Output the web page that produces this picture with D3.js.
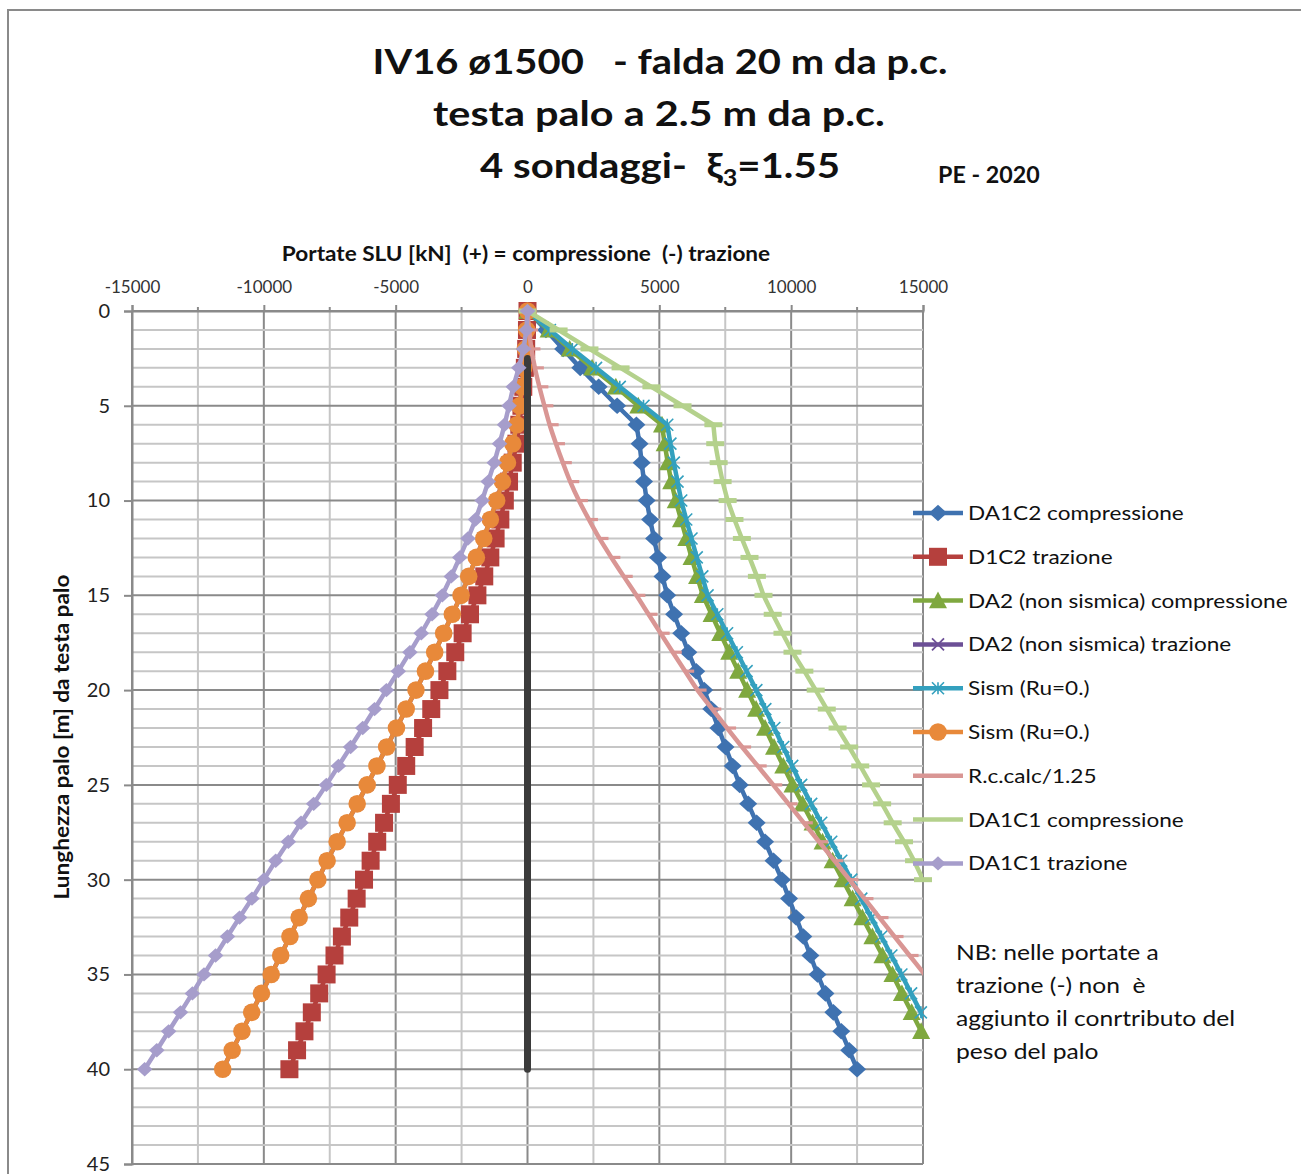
<!DOCTYPE html>
<html>
<head>
<meta charset="utf-8">
<script src="https://cdn.jsdelivr.net/npm/d3@7"></script>
<style>
  body { margin: 0; background: #fff; }
  svg { display: block; font-family: Lato, "Open Sans", sans-serif; }
  text { white-space: pre; }
</style>
</head>
<body>
<svg id="chart" width="1301" height="1174"></svg>
<script>
// Depth below pile head [m]
const depth = [0,1,2,3,4,5,6,7,8,9,10,11,12,13,14,15,16,17,18,19,20,
               21,22,23,24,25,26,27,28,29,30,31,32,33,34,35,36,37,38,39,40];

// ULS capacities [kN]: (+) compression, (-) tension
const da1c2Comp = [0,700,1350,2000,2700,3400,4130,4250,4330,4420,4520,4650,4800,4950,5120,5300,5560,5830,6100,6400,6700,
                   6970,7240,7510,7780,8050,8370,8690,9010,9330,9650,9920,10190,10460,10730,11000,11300,11600,11900,12200,12500];
const d1c2Traz  = [0,-20,-50,-100,-160,-230,-310,-420,-560,-700,-860,-1030,-1210,-1410,-1640,-1900,-2180,-2460,-2740,-3040,-3340,
                   -3650,-3960,-4280,-4600,-4920,-5180,-5440,-5700,-5950,-6200,-6480,-6760,-7040,-7320,-7620,-7900,-8180,-8460,-8740,-9030];
const da2Comp   = [0,800,1600,2450,3350,4200,5100,5200,5320,5450,5620,5820,6020,6220,6430,6650,6980,7310,7650,7990,8330,
                   8670,9010,9350,9700,10050,10430,10810,11190,11570,11950,12330,12700,13080,13460,13840,14200,14570,14930,15300,15660];
const da2Traz   = [0,-30,-80,-140,-210,-300,-400,-560,-760,-950,-1170,-1410,-1660,-1940,-2230,-2520,-2850,-3180,-3520,-3870,-4230,
                   -4600,-4970,-5340,-5710,-6080,-6460,-6840,-7220,-7600,-7950,-8310,-8660,-9010,-9360,-9720,-10090,-10460,-10830,-11200,-11560];
const sismComp  = [0,850,1700,2600,3500,4400,5300,5420,5550,5690,5830,6020,6220,6420,6630,6830,7200,7570,7940,8310,8680,
                   9020,9360,9700,10040,10380,10760,11140,11520,11900,12280,12660,13040,13420,13800,14180,14550,14920,15290,15660,16030];
const sismTraz  = [0,-30,-80,-140,-210,-300,-400,-560,-760,-950,-1170,-1410,-1660,-1940,-2230,-2520,-2850,-3180,-3520,-3870,-4230,
                   -4600,-4970,-5340,-5710,-6080,-6460,-6840,-7220,-7600,-7950,-8310,-8660,-9010,-9360,-9720,-10090,-10460,-10830,-11200,-11560];
const rcCalc    = [0,60,150,280,450,640,840,1080,1340,1620,1950,2330,2730,3180,3650,4130,4590,5050,5510,5980,6450,
                   7010,7570,8140,8730,9320,9900,10480,11060,11640,12210,12780,13350,13920,14490,15060,15630,16200,16770,17340,17910];
const da1c1Comp = [0,1180,2350,3530,4700,5880,7050,7120,7250,7400,7590,7850,8130,8420,8700,8950,9300,9670,10050,10500,10930,
                   11350,11760,12200,12620,13030,13450,13850,14280,14660,15000];
const da1c1Traz = [0,-40,-150,-330,-540,-700,-870,-1060,-1260,-1490,-1720,-1970,-2260,-2570,-2890,-3230,-3620,-4030,-4460,-4900,-5350,
                   -5800,-6250,-6710,-7170,-7630,-8110,-8590,-9070,-9550,-10000,-10450,-10920,-11380,-11830,-12270,-12710,-13160,-13610,-14060,-14520];

// Pile axis reference line
const pileDepth = [2.5, 40];
const pileLoad  = [0, 0];

// Axis ticks
const xTicks = [-15000,-10000,-5000,0,5000,10000,15000];
const yTicks = [0,5,10,15,20,25,30,35,40,45];

const seriesNames = ["DA1C2 compressione","D1C2 trazione","DA2 (non sismica) compressione","DA2 (non sismica) trazione",
                     "Sism (Ru=0.)","Sism (Ru=0.)","R.c.calc/1.25","DA1C1 compressione","DA1C1 trazione"];
const seriesValues = [da1c2Comp, d1c2Traz, da2Comp, da2Traz, sismComp, sismTraz, rcCalc, da1c1Comp, da1c1Traz];

// Drawing styles for each series, in legend order
const styles = [
  {color:"#3F72B0", marker:"diamond", size:9},
  {color:"#B5403D", marker:"square", size:9},
  {color:"#7FA83F", marker:"triangle", size:9},
  {color:"#6C4F96", marker:"x", size:6},
  {color:"#33A0BE", marker:"star", size:6},
  {color:"#E8893A", marker:"circle", size:8.8},
  {color:"#D99694", marker:"tick", size:9, smooth:true, legendMarker:false},
  {color:"#B4D18C", marker:"dash", size:9, legendMarker:false},
  {color:"#A69DCB", marker:"diamond", size:7.8}
];

const svg = d3.select("#chart");

// stretch a text element horizontally to a given width, keeping its anchor point
function fitWidth(sel, ax, width) {
  const w = sel.node().getBBox().width;
  const sx = width / w;
  sel.attr("transform", `translate(${ax},0) scale(${sx},1) translate(${-ax},0)`);
}

// outer chart frame
svg.append("rect").attr("x", 8).attr("y", 10).attr("width", 1400).attr("height", 1400)
  .attr("fill", "#fff").attr("stroke", "#8a8a8a").attr("stroke-width", 2);

const x = d3.scaleLinear().domain([-15000, 15000]).range([132, 923]);
const y = d3.scaleLinear().domain([0, 45]).range([311, 1164]);

// gridlines
const grid = svg.append("g");
const minorX = d3.range(-15000, 15001, 2500);
const minorY = d3.range(0, 46, 1);
grid.selectAll(".vx").data(minorX).join("line")
  .attr("x1", d => x(d)).attr("x2", d => x(d)).attr("y1", y(0)).attr("y2", y(45))
  .attr("stroke", d => d % 5000 === 0 ? "#8a8a8a" : "#c6c6c6").attr("stroke-width", 2);
grid.selectAll(".hy").data(minorY).join("line")
  .attr("x1", x(-15000)).attr("x2", x(15000)).attr("y1", d => y(d)).attr("y2", d => y(d))
  .attr("stroke", d => d % 5 === 0 ? "#8a8a8a" : "#c6c6c6").attr("stroke-width", 2);

const fmt = d => String(d);

// top axis (values)
const xAxis = d3.axisTop(x).tickValues(xTicks).tickSize(6).tickPadding(12).tickFormat(fmt);
const gx = svg.append("g").attr("transform", `translate(0,${y(0)})`).call(xAxis);
gx.select(".domain").attr("stroke", "#8a8a8a").attr("stroke-width", 2);
gx.selectAll(".tick line").attr("stroke", "#8a8a8a").attr("stroke-width", 2);
gx.selectAll(".tick text").attr("font-family", "Lato, sans-serif").attr("font-size", 17).attr("fill", "#333");
// minor tick marks on top axis
svg.append("g").selectAll("line").data(minorX.filter(d => d % 5000 !== 0)).join("line")
  .attr("x1", d => x(d)).attr("x2", d => x(d)).attr("y1", y(0) - 4).attr("y2", y(0))
  .attr("stroke", "#8a8a8a").attr("stroke-width", 2);

// left axis (depth)
const yAxis = d3.axisLeft(y).tickValues(yTicks).tickSize(8).tickPadding(14).tickFormat(fmt);
const gy = svg.append("g").attr("transform", `translate(${x(-15000)},0)`).call(yAxis);
gy.select(".domain").attr("stroke", "#8a8a8a").attr("stroke-width", 2);
gy.selectAll(".tick line").attr("stroke", "#8a8a8a").attr("stroke-width", 2);
gy.selectAll(".tick text").attr("font-family", "Lato, sans-serif").attr("font-size", 20).attr("fill", "#222");

// titles
const title = svg.append("g").attr("font-weight", "bold").attr("fill", "#111").attr("text-anchor", "middle");
const t1 = title.append("text").attr("x", 660).attr("y", 74).attr("font-size", 35).text("IV16 ø1500   - falda 20 m da p.c.");
const t2 = title.append("text").attr("x", 659).attr("y", 126).attr("font-size", 35).text("testa palo a 2.5 m da p.c.");
const t3 = title.append("text").attr("x", 660).attr("y", 178).attr("font-size", 35);
t3.append("tspan").text("4 sondaggi-  ξ");
t3.append("tspan").attr("font-size", 22).attr("dy", 8).text("3");
t3.append("tspan").attr("dy", -8).text("=1.55");
fitWidth(t1, 660, 575);
fitWidth(t2, 659, 452);
fitWidth(t3, 660, 360);
const pe = svg.append("text").attr("x", 938).attr("y", 183).attr("font-size", 22).attr("font-weight", "bold")
  .attr("fill", "#111").text("PE - 2020");
fitWidth(pe, 938, 102);

const xt = svg.append("text").attr("x", 526).attr("y", 261).attr("text-anchor", "middle")
  .attr("font-size", 20).attr("font-weight", "bold").attr("fill", "#111")
  .text("Portate SLU [kN]  (+) = compressione  (-) trazione");
fitWidth(xt, 526, 489);
const ytg = svg.append("g").attr("transform", "translate(69,737) rotate(-90)");
const yt = ytg.append("text").attr("x", 0).attr("y", 0).attr("text-anchor", "middle")
  .attr("font-size", 20).attr("font-weight", "bold").attr("fill", "#111")
  .text("Lunghezza palo [m] da testa palo");
fitWidth(yt, 0, 325);

// marker drawing
function drawMarker(sel, type, s, color) {
  switch (type) {
    case "diamond":
      sel.append("path").attr("d", `M0,${-s*0.92}L${s},0L0,${s*0.92}L${-s},0Z`).attr("fill", color); break;
    case "square":
      sel.append("rect").attr("x", -s).attr("y", -s).attr("width", 2*s).attr("height", 2*s).attr("fill", color); break;
    case "triangle":
      sel.append("path").attr("d", `M0,${-s}L${s},${s*0.85}L${-s},${s*0.85}Z`).attr("fill", color); break;
    case "circle":
      sel.append("circle").attr("r", s).attr("fill", color); break;
    case "x":
      sel.append("path").attr("d", `M${-s},${-s}L${s},${s}M${-s},${s}L${s},${-s}`)
        .attr("stroke", color).attr("stroke-width", 1.8).attr("fill", "none"); break;
    case "star":
      sel.append("path").attr("d", `M${-s},${-s}L${s},${s}M${-s},${s}L${s},${-s}M0,${-s}L0,${s}`)
        .attr("stroke", color).attr("stroke-width", 1.6).attr("fill", "none"); break;
    case "dash":
      sel.append("rect").attr("x", -s).attr("y", -2.5).attr("width", 2*s).attr("height", 5).attr("fill", color); break;
    case "tick":
      sel.append("rect").attr("x", 0).attr("y", -1.6).attr("width", s).attr("height", 3.2).attr("fill", color); break;
  }
}

// clipping for lines
svg.append("clipPath").attr("id", "plotClip").append("rect")
  .attr("x", x(-15000)).attr("y", y(0) - 3).attr("width", x(15000) - x(-15000)).attr("height", y(45) - y(0) + 6);

const plot = svg.append("g");

function drawSeries(vals, st) {
  const pts = vals.map((v, i) => [v, depth[i]]);
  const line = d3.line().x(d => x(d[0])).y(d => y(d[1]))
    .curve(st.smooth ? d3.curveMonotoneY : d3.curveLinear);
  const g = plot.append("g");
  g.append("path").datum(pts).attr("d", line).attr("fill", "none")
    .attr("stroke", st.color).attr("stroke-width", 4.5).attr("stroke-linejoin", "round")
    .attr("clip-path", "url(#plotClip)");
  const inside = pts.filter(d => d[0] >= -15000 && d[0] <= 15000);
  inside.forEach(d => {
    const m = g.append("g").attr("transform", `translate(${x(d[0])},${y(d[1])})`);
    drawMarker(m, st.marker, st.size, st.color);
  });
}

seriesValues.forEach((vals, i) => {
  drawSeries(vals, styles[i]);
  if (i === 5) {
    // pile axis
    const pile = pileDepth.map((d, k) => [pileLoad[k], d]);
    plot.append("path").datum(pile)
      .attr("d", d3.line().x(d => x(d[0])).y(d => y(d[1])))
      .attr("stroke", "#3b3b3b").attr("stroke-width", 7).attr("stroke-linecap", "round").attr("fill", "none");
  }
});

// legend
const legend = svg.append("g").attr("transform", "translate(913,513)");
seriesNames.forEach((name, i) => {
  const st = styles[i];
  const g = legend.append("g").attr("transform", `translate(0,${i * 43.8})`);
  g.append("line").attr("x1", 0).attr("x2", 50).attr("stroke", st.color).attr("stroke-width", 4.5);
  if (st.legendMarker !== false) {
    const m = g.append("g").attr("transform", "translate(25,0)");
    drawMarker(m, st.marker, st.size, st.color);
  }
  const t = g.append("text").attr("x", 55).attr("y", 7).attr("font-size", 20).attr("fill", "#111").text(name);
  t.attr("transform", "translate(55,0) scale(1.13,1) translate(-55,0)");
});

// note
const note = ["NB: nelle portate a", "trazione (-) non  è", "aggiunto il conrtributo del", "peso del palo"];
const nt = svg.append("text").attr("x", 956).attr("y", 960).attr("font-size", 22).attr("fill", "#111");
note.forEach((l, i) => nt.append("tspan").attr("x", 956).attr("dy", i === 0 ? 0 : 33).text(l));
nt.attr("transform", "translate(956,0) scale(1.12,1) translate(-956,0)");
</script>
</body>
</html>
